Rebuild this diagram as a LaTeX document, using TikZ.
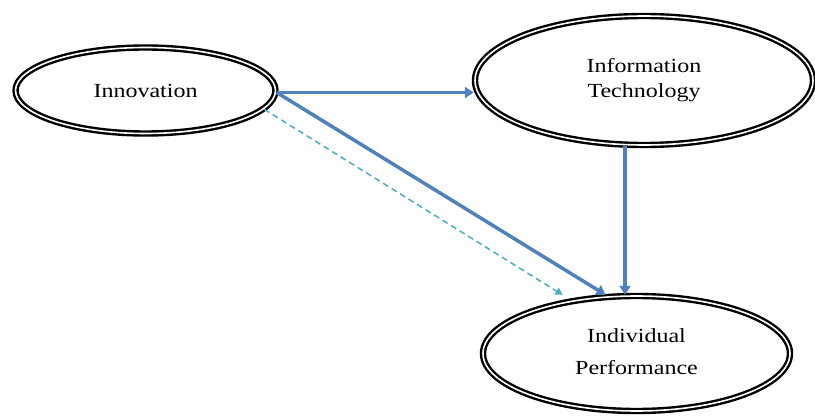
\documentclass[tikz,border=0pt]{standalone}
\usepackage{fontspec}
\setmainfont{Liberation Serif}
\usetikzlibrary{shapes.geometric,arrows.meta,calc}
\definecolor{arrblue}{HTML}{4F81BD}
\definecolor{dashcyan}{HTML}{4BACC6}
\newcommand{\wtext}[1]{\scalebox{1.2}[1]{#1}}
\begin{document}
\begin{tikzpicture}[x=1pt,y=-1pt,
  oval/.style={ellipse, draw=black, double=white, line width=2.4pt, double distance=1.6pt,
    inner sep=0pt, font=\fontsize{20}{25}\selectfont},
  arr/.style={draw=arrblue, line width=3.5pt, -{Triangle[length=9pt,width=11pt]}},
  darr/.style={draw=dashcyan, line width=1.5pt, dash pattern=on 6pt off 4pt,
    -{Triangle[length=7pt,width=8pt]}}]
\useasboundingbox (0,0) rectangle (815,417);
\node[oval, minimum width=260pt, minimum height=86pt] (inn) at (145.5,90.5) {\wtext{Innovation}};
\node[oval, minimum width=338pt, minimum height=129pt] (it) at (644,80.5)
  {\raisebox{8pt}{\wtext{\begin{tabular}{@{}c@{}}Information\\Technology\end{tabular}}}};
\node[oval, minimum width=307pt, minimum height=115pt] (ip) at (636.5,353.5)
  {\wtext{\begin{tabular}{@{}c@{}}Individual\\[7pt]Performance\end{tabular}}};
\draw[darr] (inn.-9) -- ([xshift=-74pt]ip.north);
\draw[arr] ([yshift=-2pt]inn.east) -- ([yshift=-2pt]inn.east -| it.west);
\draw[arr] ([xshift=-19pt]it.south) -- ([xshift=-19pt]it.south |- ip.north);
\draw[arr] ([yshift=-2pt]inn.east) -- ([xshift=-31pt]ip.north);
\end{tikzpicture}
\end{document}
